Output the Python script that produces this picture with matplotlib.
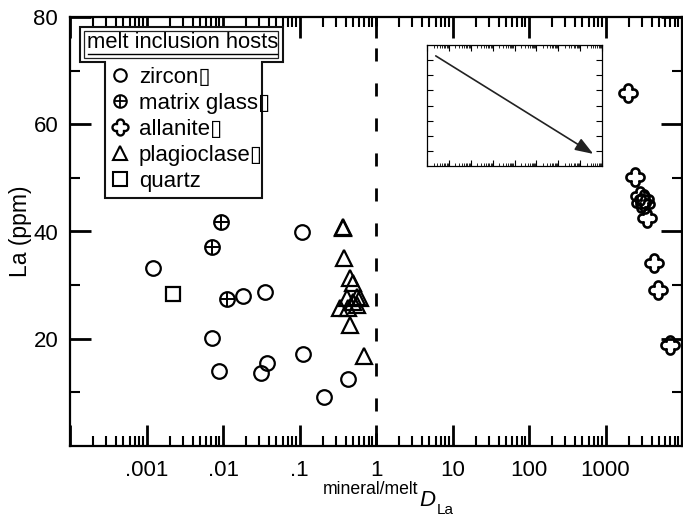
import numpy as np
import matplotlib
matplotlib.use('Agg')
import matplotlib.pyplot as plt
from matplotlib.path import Path
from matplotlib.lines import Line2D
from matplotlib.patches import Polygon, Rectangle
from matplotlib.ticker import FixedLocator, FixedFormatter, LogLocator, NullFormatter

plt.rcParams['font.family'] = ['Liberation Sans', 'DejaVu Sans']

# ---- data ----
zircon_D = [0.0012, 0.0072, 0.0089, 0.0184, 0.0315, 0.0356, 0.0378, 0.108, 0.111, 0.21, 0.43]
zircon_La = [33.2, 20.1, 14.0, 28.0, 13.6, 28.7, 15.5, 39.9, 17.2, 9.1, 12.5]

glass_D = [0.0072, 0.0095, 0.0113]
glass_La = [37.1, 41.8, 27.4]

allanite_D = [1950, 2405, 2793, 3153, 2880, 3250, 3450, 4260, 4800, 6890]
allanite_La = [65.8, 50.2, 46.6, 46.1, 45.3, 45.1, 42.5, 34.1, 29.1, 18.8]

plag_D = [0.371, 0.375, 0.382, 0.458, 0.501, 0.565, 0.618, 0.501, 0.418, 0.339, 0.431, 0.565, 0.458, 0.697]
plag_La = [40.65, 40.9, 35.06, 31.33, 30.40, 27.79, 27.60, 26.85, 27.60, 25.73, 25.73, 26.29, 22.56, 16.78]

quartz_D = [0.00224]
quartz_La = [28.3]

x_ticks = [1e-4, 1e-3, 1e-2, 1e-1, 1, 10, 100, 1000, 1e4]
x_labels = ['', '.001', '.01', '.1', '1', '10', '100', '1000', '']
y_ticks = [20, 40, 60, 80]
y_minor = [10, 30, 50, 70]

legend_names = ['zircon\u25af', 'matrix glass\u25af', 'allanite\u25af', 'plagioclase\u25af', 'quartz']

# four-lobed marker for allanite (outer outline of four overlapping circles)
th = np.linspace(0, 2 * np.pi, 241)
d, R = 0.34, 0.27
rr = np.zeros_like(th)
for phi in [0, np.pi / 2, np.pi, 1.5 * np.pi]:
    a = th - phi
    t = d * np.cos(a) + np.sqrt(np.clip(R**2 - (d * np.sin(a))**2, 0, None))
    rr = np.maximum(rr, t)
clover = Path(np.column_stack([rr * np.cos(th), rr * np.sin(th)]), closed=True)

fig = plt.figure(figsize=(6.83, 5.17), dpi=100)
ax = fig.add_axes([70 / 683, 1 - 446 / 517, 612 / 683, 429 / 517])

k = dict(ls='none', mfc='none', mec='k', color='k')
ax.plot(zircon_D, zircon_La, marker='o', ms=10.5, mew=1.6, **k)
ax.plot(glass_D, glass_La, marker='o', ms=10.5, mew=1.6, **k)
ax.plot(glass_D, glass_La, marker='+', ms=10.5, mew=1.4, **k)
ax.plot(allanite_D, allanite_La, marker=clover, ms=13, mew=1.9, **k)
ax.plot(plag_D, plag_La, marker='^', ms=11, mew=1.6, **k)
ax.plot(quartz_D, quartz_La, marker='s', ms=10.5, mew=1.6, **k)

ax.axvline(1, color='k', lw=2, ls=(0, (4.7, 7.9)))

ax.set_xscale('log')
ax.set_xlim(1e-4, 1e4)
ax.set_ylim(0, 80)
ax.xaxis.set_major_locator(FixedLocator(x_ticks))
ax.xaxis.set_major_formatter(FixedFormatter(x_labels))
ax.xaxis.set_minor_locator(LogLocator(base=10, subs=np.arange(2, 10), numticks=20))
ax.xaxis.set_minor_formatter(NullFormatter())
ax.set_yticks(y_ticks)
ax.set_yticks(y_minor, minor=True)

ax.tick_params(which='both', direction='in', top=True, right=True, labelsize=16, colors='k')
ax.tick_params(which='major', length=15, width=2)
ax.tick_params(which='minor', length=7, width=1.5)
ax.tick_params(axis='x', which='major', pad=10)
ax.tick_params(axis='y', which='major', pad=8.5)
for s in ax.spines.values():
    s.set_linewidth(1.6)

ax.set_ylabel('La (ppm)', fontsize=16.5)
ax.yaxis.set_label_coords(-0.062, 0.5)

fig.text(323 / 683, 1 - 494 / 517, 'mineral/melt', fontsize=12.7, va='baseline', ha='left')
fig.text(419 / 683, 1 - 506 / 517, 'D', fontsize=16, style='italic', va='baseline', ha='left')
fig.text(437 / 683, 1 - 514 / 517, 'La', fontsize=11, va='baseline', ha='left')

# legend frame (T shape) and title
def px(x, y):
    return ((x - 70) / 612, (446 - y) / 429)

frame = Polygon([px(80, 27), px(283, 27), px(283, 62), px(262, 62), px(262, 198),
                 px(105, 198), px(105, 62), px(80, 62)], closed=True,
                transform=ax.transAxes, fc='white', ec='#111', lw=1.5, zorder=5)
ax.add_patch(frame)
x0, y0 = px(84, 58)
x1, y1 = px(278, 31)
ax.add_patch(Rectangle((x0, y0), x1 - x0, y1 - y0, transform=ax.transAxes,
                       fill=False, ec='#222', lw=0.9, zorder=6))
tx, ty = px(182.5, 43)
ax.text(tx, ty, 'melt inclusion hosts', transform=ax.transAxes, ha='center', va='center',
        fontsize=15.8, zorder=7)
ux0, uy = px(88, 54)
ux1, _ = px(277, 54)
ax.plot([ux0, ux1], [uy, uy], transform=ax.transAxes, color='k', lw=1.0, zorder=7)

hk = dict(ls='none', mfc='none', mec='k', color='k')
handles = [
    Line2D([], [], marker='o', ms=9, mew=1.5, **hk),
    (Line2D([], [], marker='o', ms=9, mew=1.5, **hk), Line2D([], [], marker='+', ms=9, mew=1.3, **hk)),
    Line2D([], [], marker=clover, ms=11.5, mew=1.7, **hk),
    Line2D([], [], marker='^', ms=10, mew=1.5, **hk),
    Line2D([], [], marker='s', ms=9.5, mew=1.5, **hk),
]
lx, ly = px(111, 67)
leg = ax.legend(handles, legend_names, loc='upper left', bbox_to_anchor=(lx, ly),
                frameon=False, fontsize=16, handlelength=0.8, handletextpad=0.45,
                labelspacing=0.22, borderpad=0, borderaxespad=0)
leg.set_zorder(8)

# small inset
ax_in = fig.add_axes([427 / 683, 1 - 166 / 517, 175 / 683, 121 / 517])
ax_in.set_xscale('log')
ax_in.set_xlim(1e-4, 1e4)
ax_in.set_ylim(0, 8)
ax_in.xaxis.set_major_locator(LogLocator(base=10, numticks=20))
ax_in.xaxis.set_minor_locator(LogLocator(base=10, subs=np.arange(2, 10), numticks=20))
ax_in.set_yticks(range(1, 8))
ax_in.tick_params(which='both', direction='in', top=True, right=True,
                  labelbottom=False, labelleft=False)
ax_in.tick_params(which='major', length=4, width=0.8)
ax_in.tick_params(which='minor', length=2, width=0.6)
for s in ax_in.spines.values():
    s.set_linewidth(0.9)
ax_in.annotate('', xy=(0.95, 0.10), xytext=(0.05, 0.91), xycoords='axes fraction',
               arrowprops=dict(arrowstyle='-|>,head_length=0.55,head_width=0.2',
                               lw=1.2, color='#222', mutation_scale=20, shrinkA=0, shrinkB=0))

fig.savefig('out.png', dpi=100)
